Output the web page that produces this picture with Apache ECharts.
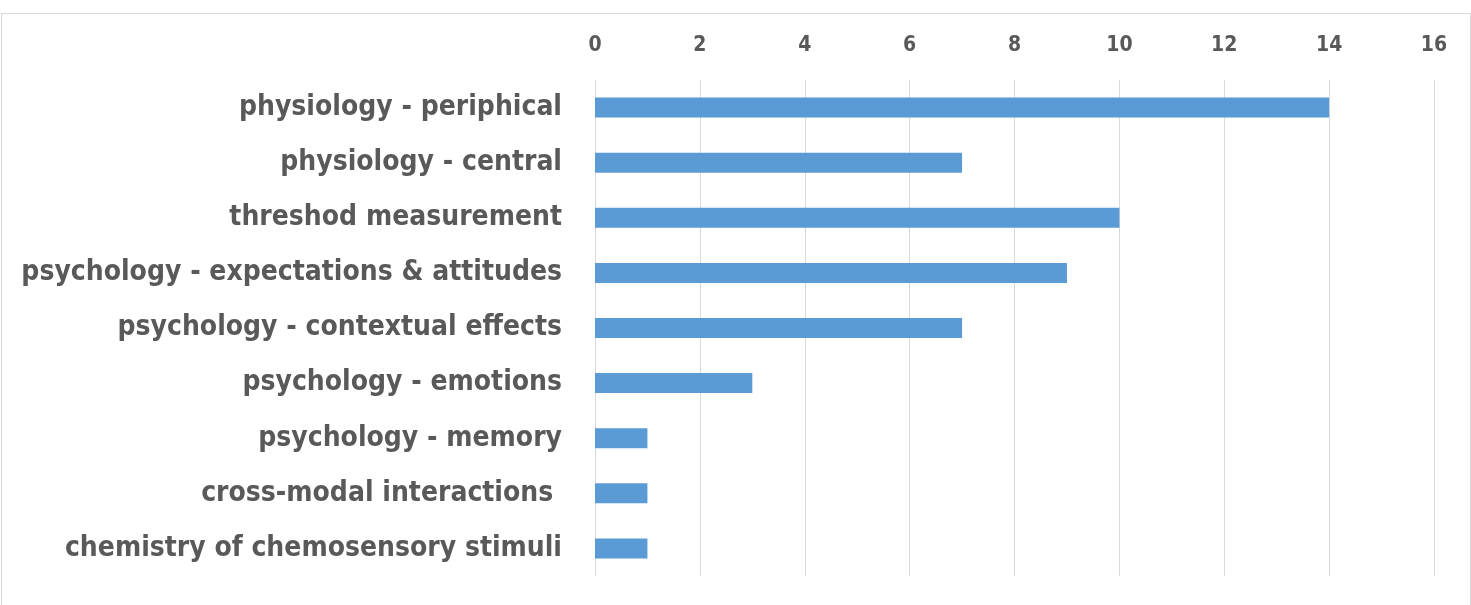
<!DOCTYPE html>
<html>
<head>
<meta charset="utf-8">
<script src="https://cdn.jsdelivr.net/npm/echarts@6/dist/echarts.min.js"></script>
<style>
  html, body { margin: 0; padding: 0; background: #fff; }
  #frame { position: absolute; left: 1px; top: 13px; width: 1468px; height: 600px; border: 1px solid #d9d9d9; }
  #chart { position: absolute; left: 0; top: 0; width: 1471px; height: 605px; }
</style>
</head>
<body>
<div id="frame"></div>
<div id="chart"></div>
<script>
// categories from top to bottom as they appear
var categories = [
    'physiology - periphical',
    'physiology - central',
    'threshod measurement',
    'psychology - expectations & attitudes',
    'psychology - contextual effects',
    'psychology - emotions',
    'psychology - memory',
    'cross-modal interactions ',
    'chemistry of chemosensory stimuli'
]
var counts = [14, 7, 10, 9, 7, 3, 1, 1, 1]
var xTicks = [0, 2, 4, 6, 8, 10, 12, 14, 16]

var labelFont = '"Liberation Sans Narrow", "DejaVu Sans Condensed", sans-serif'

var chart = echarts.init(document.getElementById('chart'))

var option = {
    animation: false,
    grid: {
        left: 595,
        right: 37,
        top: 80,
        height: 496,
        outerBoundsMode: 'none',
        containLabel: false
    },
    xAxis: {
        type: 'value',
        position: 'top',
        min: xTicks[0],
        max: xTicks[xTicks.length - 1],
        interval: 2,
        axisLine: { show: false },
        axisTick: { show: false },
        axisLabel: {
            margin: 24,
            color: '#595959',
            fontSize: 21,
            fontWeight: 'bold',
            fontFamily: labelFont
        },
        splitLine: { show: true, lineStyle: { color: '#d9d9d9', width: 1 } }
    },
    yAxis: {
        type: 'category',
        inverse: true,
        data: categories,
        axisLine: { show: false },
        axisTick: { show: false },
        axisLabel: {
            margin: 33,
            color: '#595959',
            fontSize: 28,
            fontWeight: 'bold',
            fontFamily: labelFont
        }
    },
    series: [
        {
            type: 'bar',
            data: counts,
            barWidth: 20,
            itemStyle: { color: '#5b9bd5' }
        }
    ]
}

chart.setOption(option)
</script>
</body>
</html>
